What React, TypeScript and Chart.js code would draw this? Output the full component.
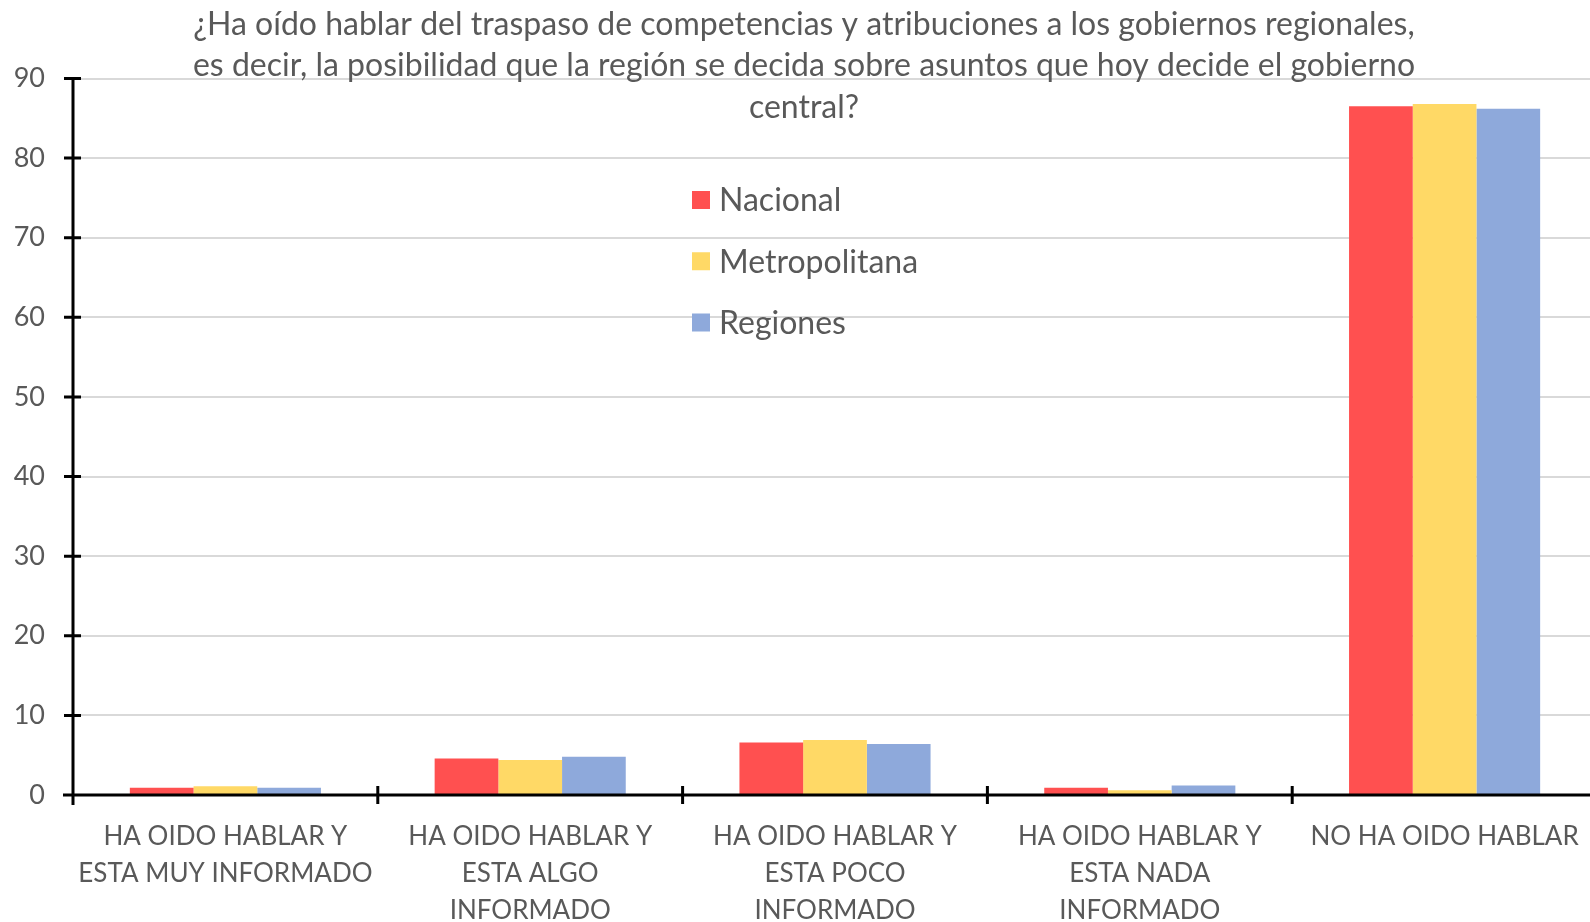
import { useEffect, useRef } from "react";
import { Chart, registerables } from "chart.js";

Chart.register(...registerables);

// ---- data ----
const categories: string[][] = [
  ["HA OIDO HABLAR Y", "ESTA MUY INFORMADO"],
  ["HA OIDO HABLAR Y", "ESTA ALGO", "INFORMADO"],
  ["HA OIDO HABLAR Y", "ESTA POCO", "INFORMADO"],
  ["HA OIDO HABLAR Y", "ESTA NADA", "INFORMADO"],
  ["NO HA OIDO HABLAR"],
];
const seriesNames = ["Nacional", "Metropolitana", "Regiones"];
const nacional = [0.9, 4.6, 6.6, 0.9, 86.5];
const metropolitana = [1.1, 4.4, 6.9, 0.6, 86.8];
const regiones = [0.9, 4.8, 6.4, 1.2, 86.2];
const yTicks = [0, 10, 20, 30, 40, 50, 60, 70, 80, 90];
const titleLines = [
  "¿Ha oído hablar del traspaso de competencias y atribuciones a los gobiernos regionales,",
  "es decir, la posibilidad que la región se decida sobre asuntos que hoy decide el gobierno",
  "central?",
];

// ---- styles ----
const FONT = 'Lato, "Noto Sans", sans-serif';
const TEXT = "#595959";
const COLORS = ["#FF5050", "#FFD966", "#8EA9DB"];

const overlay = {
  id: "overlay",
  afterDraw(chart: any) {
    const { ctx, chartArea: a } = chart;
    const xs = chart.scales.x;
    const ys = chart.scales.y;
    ctx.save();
    // axes
    ctx.strokeStyle = "#000";
    ctx.lineWidth = 3;
    const y0 = ys.getPixelForValue(0);
    ctx.beginPath();
    ctx.moveTo(a.left - 10, y0);
    ctx.lineTo(a.right, y0);
    ctx.moveTo(a.left, a.top);
    ctx.lineTo(a.left, y0 + 10);
    yTicks.forEach((v) => {
      const py = ys.getPixelForValue(v);
      ctx.moveTo(a.left - 9, py);
      ctx.lineTo(a.left + 8, py);
    });
    for (let i = 1; i < categories.length; i++) {
      const px = (xs.getPixelForValue(i - 1) + xs.getPixelForValue(i)) / 2;
      ctx.moveTo(px, y0 - 9);
      ctx.lineTo(px, y0 + 9);
    }
    ctx.stroke();

    // title
    ctx.fillStyle = TEXT;
    ctx.font = `32px ${FONT}`;
    ctx.textAlign = "center";
    ctx.textBaseline = "alphabetic";
    const baselines = [35, 76, 118];
    titleLines.forEach((t, i) => ctx.fillText(t, 804, baselines[i]));

    // legend
    ctx.font = `32px ${FONT}`;
    ctx.textAlign = "left";
    ctx.textBaseline = "middle";
    chart.data.datasets.forEach((ds: any, i: number) => {
      const cy = 200 + i * 61.25;
      ctx.fillStyle = ds.backgroundColor;
      ctx.fillRect(692, cy - 9, 18, 18);
      ctx.fillStyle = TEXT;
      ctx.fillText(ds.label, 719, cy + 1);
    });
    ctx.restore();
  },
};

export default function App() {
  const ref = useRef<HTMLCanvasElement>(null);
  useEffect(() => {
    document.documentElement.style.overflow = "hidden";
    document.body.style.overflow = "hidden";
    document.body.style.margin = "0";
    const values = [nacional, metropolitana, regiones];
    const chart = new Chart(ref.current as HTMLCanvasElement, {
      type: "bar",
      data: {
        labels: categories,
        datasets: seriesNames.map((name, i) => ({
          label: name,
          data: values[i],
          backgroundColor: COLORS[i],
          borderWidth: 0,
          categoryPercentage: 0.627,
          barPercentage: 1.0,
        })),
      },
      options: {
        responsive: false,
        animation: false,
        events: [],
        layout: { padding: { top: 78.5, left: 0, right: 0, bottom: 0 } },
        plugins: {
          legend: { display: false },
          title: { display: false },
          tooltip: { enabled: false },
        },
        scales: {
          x: {
            grid: { display: false, drawTicks: false, tickLength: 0 },
            border: { display: false },
            ticks: {
              color: TEXT,
              font: { family: FONT, size: 26, lineHeight: 1.43 },
              padding: 23,
              maxRotation: 0,
              autoSkip: false,
            },
            afterFit: (s: any) => {
              s.height = 127;
              s.paddingLeft = 0;
              s.paddingRight = 0;
            },
          },
          y: {
            min: 0,
            max: 90,
            grid: { color: "#D9D9D9", lineWidth: 2, drawTicks: false, tickLength: 0 },
            border: { display: false },
            ticks: {
              stepSize: 10,
              color: TEXT,
              font: { family: FONT, size: 27 },
              padding: 28,
            },
            afterFit: (s: any) => {
              s.width = 73;
            },
          },
        },
      },
      plugins: [overlay],
    });
    return () => chart.destroy();
  }, []);
  return (
    <div
      style={{
        position: "fixed",
        left: 0,
        top: 0,
        width: 1590,
        height: 922,
        overflow: "hidden",
        background: "#fff",
      }}
    >
      <div style={{ position: "absolute", left: 0, top: 0, width: 1597, height: 922 }}>
        <canvas
          ref={ref}
          width={1597}
          height={922}
          style={{ display: "block", width: 1597, height: 922 }}
        />
      </div>
    </div>
  );
}
